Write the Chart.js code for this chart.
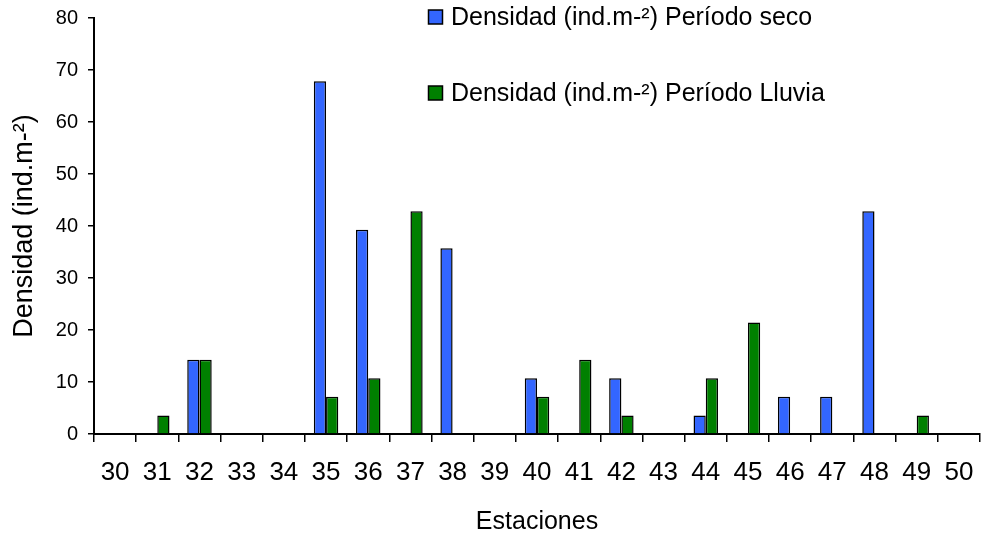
<!DOCTYPE html>
<html>
<head>
<meta charset="utf-8">
<script src="https://cdn.jsdelivr.net/npm/chart.js@4.4.1/dist/chart.umd.min.js"></script>
<style>
  html, body { margin: 0; padding: 0; background: #fff; }
  #wrap { width: 989px; height: 535px; }
</style>
</head>
<body>
<div id="wrap"><canvas id="densityChart" width="989" height="535"></canvas></div>
<script>
// Stations on the x axis
const estaciones = ['30','31','32','33','34','35','36','37','38','39','40',
                    '41','42','43','44','45','46','47','48','49','50'];

// Density per station, dry season (blue)
const periodoSeco = [0, 0, 14.29, 0, 0, 67.86, 39.29, 0, 35.71, 0, 10.71,
                     0, 10.71, 0, 3.57, 0, 7.14, 7.14, 42.86, 0, 0];

// Density per station, rainy season (green)
const periodoLluvia = [0, 3.57, 14.29, 0, 0, 7.14, 10.71, 42.86, 0, 0, 7.14,
                       14.29, 3.57, 0, 10.71, 21.43, 0, 0, 0, 3.57, 0];

const yTicks = [0, 10, 20, 30, 40, 50, 60, 70, 80];

const FONT = 'Arial, "Liberation Sans", sans-serif';

Chart.defaults.font.family = FONT;
Chart.defaults.font.size = 20;
Chart.defaults.color = '#000';

// Vertical legend drawn inside the chart area, top right-ish
const legendInside = {
    id: 'legendInside',
    afterDraw(chart) {
        const ctx = chart.ctx;
        const rows = [10, 86];
        ctx.save();
        chart.data.datasets.forEach((ds, i) => {
            const y = rows[i];
            ctx.fillStyle = ds.backgroundColor;
            ctx.strokeStyle = '#000';
            ctx.lineWidth = 1.5;
            ctx.fillRect(428.5, y, 14, 14);
            ctx.strokeRect(428.5, y, 14, 14);
            ctx.fillStyle = '#000';
            ctx.font = '25px ' + FONT;
            ctx.textBaseline = 'middle';
            ctx.textAlign = 'left';
            ctx.fillText(ds.label, 451, y + 8);
        });
        ctx.restore();
    }
};

const ctx = document.getElementById('densityChart').getContext('2d');
new Chart(ctx, {
    type: 'bar',
    data: {
        labels: estaciones,
        datasets: [
            {
                label: 'Densidad (ind.m-²) Período seco',
                data: periodoSeco,
                backgroundColor: '#3366FF',
                borderColor: '#000',
                borderWidth: 1.5,
                categoryPercentage: 0.58,
                barPercentage: 1.0
            },
            {
                label: 'Densidad (ind.m-²) Período Lluvia',
                data: periodoLluvia,
                backgroundColor: '#008000',
                borderColor: '#000',
                borderWidth: 1.5,
                categoryPercentage: 0.58,
                barPercentage: 1.0
            }
        ]
    },
    options: {
        responsive: false,
        animation: false,
        layout: { padding: { top: 18, right: 9, left: 0, bottom: 0 } },
        plugins: {
            legend: { display: false },
            tooltip: { enabled: false }
        },
        scales: {
            x: {
                grid: { drawOnChartArea: false, drawTicks: true, tickLength: 8, color: '#000', lineWidth: 1.5, offset: true },
                border: { color: '#000', width: 2 },
                ticks: { color: '#000', font: { family: FONT, size: 26 }, padding: 15, maxRotation: 0, autoSkip: false },
                title: { display: true, text: 'Estaciones', color: '#000', font: { family: FONT, size: 25, lineHeight: 1 }, padding: { top: 0, bottom: 0 } },
                afterFit(scale) { scale.height = 101; }
            },
            y: {
                min: yTicks[0],
                max: yTicks[yTicks.length - 1],
                grid: { drawOnChartArea: false, drawTicks: true, tickLength: 6, color: '#000', lineWidth: 1.5 },
                border: { color: '#000', width: 2 },
                ticks: { stepSize: yTicks[1] - yTicks[0], color: '#000', font: { family: FONT, size: 20 }, padding: 10, autoSkip: false },
                title: { display: true, text: 'Densidad (ind.m-²)', color: '#000', font: { family: FONT, size: 27, lineHeight: 1.1 }, padding: { top: 10, bottom: 0 } },
                afterFit(scale) {
                    scale.width = 94;
                    scale.paddingTop = 0;
                    scale.paddingBottom = 0;
                }
            }
        }
    },
    plugins: [legendInside]
});
</script>
</body>
</html>
